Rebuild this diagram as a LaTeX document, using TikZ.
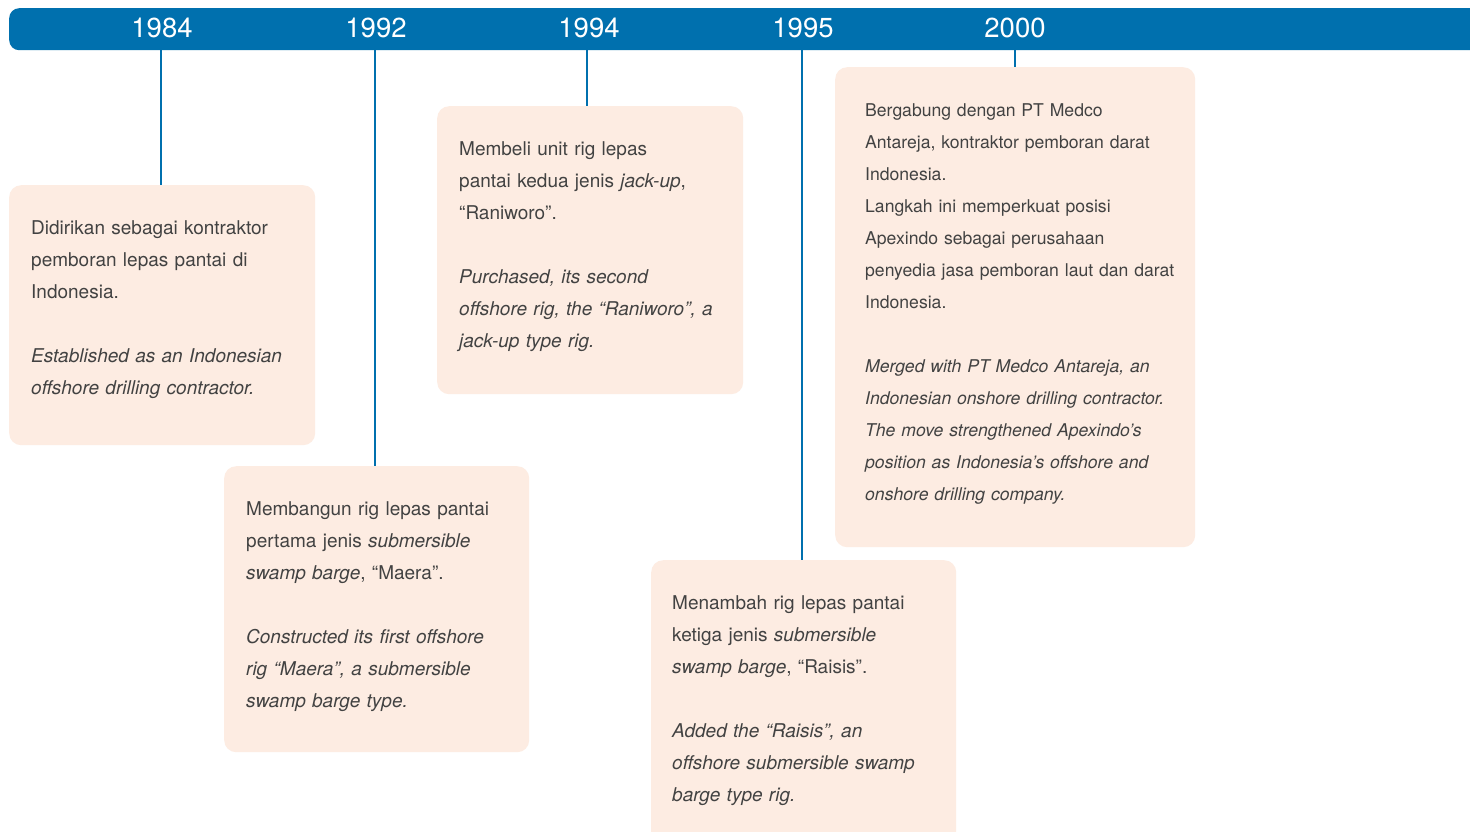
\documentclass[tikz,border=0pt]{standalone}
\usepackage{fontspec}
\setmainfont{TeX Gyre Heros}
\usetikzlibrary{calc}
\definecolor{barblue}{HTML}{0070AE}
\definecolor{boxfill}{HTML}{FDECE2}
\definecolor{txt}{HTML}{424242}
\begin{document}
\begin{tikzpicture}[x=1pt,y=-1pt,
  evbox/.style={fill=boxfill, rounded corners=12pt, draw=none, anchor=north west, inner sep=0pt},
  evtext/.style={anchor=north west, inner sep=0pt, align=left, text width=400pt, text=txt, font=\fontsize{19}{32}\selectfont},
  evtextsm/.style={evtext, font=\fontsize{17.6}{32}\selectfont},
  yearlbl/.style={text=white, font=\fontsize{27.5}{30}\selectfont, inner sep=0pt},
  tick/.style={draw=barblue, line width=1.2pt}]
\useasboundingbox (0,0) rectangle (1470,831);
\fill[white] (0,0) rectangle (1470,831);
% timeline bar
\node (bar) [fill=barblue, rounded corners=10pt, anchor=north west, inner sep=0pt, minimum width=1490pt, minimum height=42pt] at (9,8) {};
% year labels
\node (y1) [yearlbl] at (162,28) {1984};
\node (y2) [yearlbl] at (376,28) {1992};
\node (y3) [yearlbl] at (589,28) {1994};
\node (y4) [yearlbl] at (803,28) {1995};
\node (y5) [yearlbl] at (1015,28) {2000};
% boxes
\node (b1) [evbox, minimum width=306pt, minimum height=260pt] at (9,185) {};
\node (b2) [evbox, minimum width=305pt, minimum height=286pt] at (224,466) {};
\node (b3) [evbox, minimum width=306pt, minimum height=288pt] at (437,106) {};
\node (b4) [evbox, minimum width=305pt, minimum height=300pt] at (651,560) {};
\node (b5) [evbox, minimum width=360pt, minimum height=480pt] at (835,67) {};
% connectors
\draw[tick] (161,50) coordinate (t1) -- (t1 |- b1.north);
\draw[tick] (375,50) coordinate (t2) -- (t2 |- b2.north);
\draw[tick] (587,50) coordinate (t3) -- (t3 |- b3.north);
\draw[tick] (802,50) coordinate (t4) -- (t4 |- b4.north);
\draw[tick] (1015,50) coordinate (t5) -- (t5 |- b5.north);
% texts
\node (x1) [evtext] at ($(b1.north west)+(22,35.6)$) {Didirikan sebagai kontraktor\\ pemboran lepas pantai di\\ Indonesia.\\[32pt] \textit{Established as an Indonesian}\\ \textit{offshore drilling contractor.}};
\node (x2) [evtext] at ($(b2.north west)+(22,35.6)$) {Membangun rig lepas pantai\\ pertama jenis \textit{submersible}\\ \textit{swamp barge}, “Maera”.\\[32pt] \textit{Constructed its first offshore}\\ \textit{rig “Maera”, a submersible}\\ \textit{swamp barge type.}};
\node (x3) [evtext] at ($(b3.north west)+(22,35.6)$) {Membeli unit rig lepas\\ pantai kedua jenis \textit{jack-up},\\ “Raniworo”.\\[32pt] \textit{Purchased, its second}\\ \textit{offshore rig, the “Raniworo”, a}\\ \textit{jack-up type rig.}};
\node (x4) [evtext] at ($(b4.north west)+(21,35.6)$) {Menambah rig lepas pantai\\ ketiga jenis \textit{submersible}\\ \textit{swamp barge}, “Raisis”.\\[32pt] \textit{Added the “Raisis”, an}\\ \textit{offshore submersible swamp}\\ \textit{barge type rig.}};
\node (x5) [evtextsm] at ($(b5.north west)+(30,36.6)$) {Bergabung dengan PT Medco\\ Antareja, kontraktor pemboran darat\\ Indonesia.\\ Langkah ini memperkuat posisi\\ Apexindo sebagai perusahaan\\ penyedia jasa pemboran laut dan darat\\ Indonesia.\\[32pt] \textit{Merged with PT Medco Antareja, an}\\ \textit{Indonesian onshore drilling contractor.}\\ \textit{The move strengthened Apexindo’s}\\ \textit{position as Indonesia’s offshore and}\\ \textit{onshore drilling company.}};
\end{tikzpicture}
\end{document}
